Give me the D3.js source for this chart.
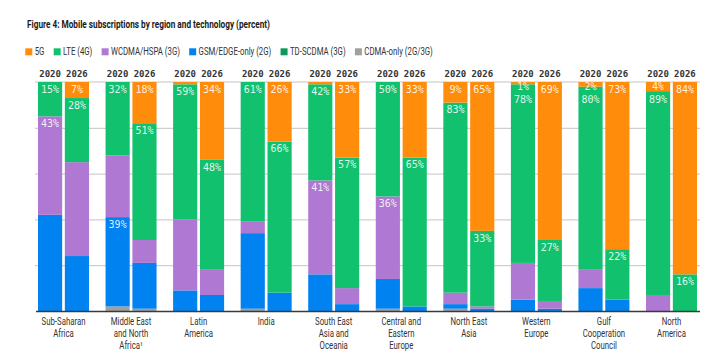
<!DOCTYPE html>
<html>
<head>
<meta charset="utf-8">
<script src="https://cdn.jsdelivr.net/npm/d3@7"></script>
<style>
  body { margin: 0; background: #fff; }
  svg { display: block; }
</style>
</head>
<body>
<svg id="chart" width="714" height="354"></svg>
<script>
// regions, bottom labels
var regions = ["SSA", "MENA", "LAT", "IND", "SEA", "CEE", "NEA", "WE", "GCC", "NA"];
var regionLines = [
  ["Sub-Saharan", "Africa"],
  ["Middle East", "and North", "Africa\u00B9"],
  ["Latin", "America"],
  ["India"],
  ["South East", "Asia and", "Oceania"],
  ["Central and", "Eastern", "Europe"],
  ["North East", "Asia"],
  ["Western", "Europe"],
  ["Gulf", "Cooperation", "Council"],
  ["North", "America"]
];
var years = ["2020", "2026"];

// percent values per technology, one entry per region
var g5_2020      = [0, 0, 1, 0, 1, 0, 9, 1, 2, 4];
var g5_2026      = [7, 18, 34, 26, 33, 33, 65, 69, 73, 84];
var lte_2020     = [15, 32, 59, 61, 42, 50, 83, 78, 80, 89];
var lte_2026     = [28, 51, 48, 66, 57, 65, 33, 27, 22, 16];
var wcdma_2020   = [43, 27, 31, 5, 41, 36, 5, 16, 8, 7];
var wcdma_2026   = [41, 10, 11, 0, 7, 0, 1, 3, 0, 0];
var gsm_2020     = [42, 39, 9, 33, 16, 13, 2, 5, 10, 0];
var gsm_2026     = [24, 20, 7, 8, 3, 2, 1, 1, 5, 0];
var tdscdma_2020 = [0, 0, 0, 0, 0, 0, 0, 0, 0, 0];
var tdscdma_2026 = [0, 0, 0, 0, 0, 0, 0, 0, 0, 0];
var cdma_2020    = [0, 2, 0, 1, 0, 1, 1, 0, 0, 0];
var cdma_2026    = [0, 1, 0, 0, 0, 0, 0, 0, 0, 0];

// which segments carry a percent label (region|year|key)
var labelled = [
  "SSA|2020|lte", "SSA|2020|wcdma", "MENA|2020|lte", "MENA|2020|gsm",
  "LAT|2020|lte", "IND|2020|lte", "SEA|2020|lte", "SEA|2020|wcdma",
  "CEE|2020|lte", "CEE|2020|wcdma", "NEA|2020|g5", "NEA|2020|lte",
  "WE|2020|g5", "WE|2020|lte", "GCC|2020|g5", "GCC|2020|lte",
  "NA|2020|g5", "NA|2020|lte",
  "SSA|2026|g5", "SSA|2026|lte", "MENA|2026|g5", "MENA|2026|lte",
  "LAT|2026|g5", "LAT|2026|lte", "IND|2026|g5", "IND|2026|lte",
  "SEA|2026|g5", "SEA|2026|lte", "CEE|2026|g5", "CEE|2026|lte",
  "NEA|2026|g5", "NEA|2026|lte", "WE|2026|g5", "WE|2026|lte",
  "GCC|2026|g5", "GCC|2026|lte", "NA|2026|g5", "NA|2026|lte"
];

var legendKeys  = ["g5", "lte", "wcdma", "gsm", "tdscdma", "cdma"];
var legendNames = ["5G", "LTE (4G)", "WCDMA/HSPA (3G)", "GSM/EDGE-only (2G)", "TD-SCDMA (3G)", "CDMA-only (2G/3G)"];
var colors = {g5: "#ff8c0a", lte: "#12c16e", wcdma: "#af78d2", gsm: "#0082f0", tdscdma: "#0a9a5a", cdma: "#a0a0a0"};

// stack order from the bottom up
var stackKeys = ["cdma", "gsm", "tdscdma", "wcdma", "lte", "g5"];

var series = {
  "2020": {g5: g5_2020, lte: lte_2020, wcdma: wcdma_2020, gsm: gsm_2020, tdscdma: tdscdma_2020, cdma: cdma_2020},
  "2026": {g5: g5_2026, lte: lte_2026, wcdma: wcdma_2026, gsm: gsm_2026, tdscdma: tdscdma_2026, cdma: cdma_2026}
};

var rows = [];
regions.forEach(function(r, i) {
  years.forEach(function(yr) {
    var row = {region: r, year: yr};
    stackKeys.forEach(function(k) { row[k] = series[yr][k][i]; });
    rows.push(row);
  });
});

var svg = d3.select("#chart");
var plotTop = 82, plotBottom = 311, plotLeft = 38, plotRight = 697;
var font = "Roboto, sans-serif";
var mono = "'DejaVu Sans Mono', monospace";
var squeeze = 0.78; // the original face is much narrower than Roboto

var x = d3.scaleBand().domain(regions).range([plotLeft, plotRight]).paddingInner(0.245).paddingOuter(0);
var xYear = d3.scaleBand().domain(years).range([0, x.bandwidth()]).paddingInner(0.1);
var y = d3.scaleLinear().domain([0, 100]).range([plotBottom, plotTop]);

// title
svg.append("text")
  .attr("x", 27).attr("y", 27.5)
  .attr("textLength", 243).attr("lengthAdjust", "spacingAndGlyphs")
  .style("font", "bold 10.5px " + font)
  .attr("fill", "#1a1a1a")
  .text("Figure 4: Mobile subscriptions by region and technology (percent)");

// legend
var lx = 25.3;
legendKeys.forEach(function(k, i) {
  svg.append("rect").attr("x", lx).attr("y", 48.3).attr("width", 7).attr("height", 7).attr("fill", colors[k]);
  var t = svg.append("text")
    .attr("transform", "translate(" + (lx + 9.4) + ",55) scale(" + squeeze + ",1)")
    .style("font", "10px " + font).attr("fill", "#333").text(legendNames[i]);
  lx += 9.4 + t.node().getComputedTextLength() * squeeze + 9.3;
});

// gridlines
svg.append("g")
  .attr("transform", "translate(35,0)")
  .call(d3.axisRight(y).tickValues([20, 40, 60, 80]).tickSize(700 - 35).tickFormat(""))
  .call(function(g) {
    g.select(".domain").remove();
    g.selectAll(".tick line").attr("stroke", "#c4c4c4").attr("stroke-width", 1);
  });

// top line
svg.append("line").attr("x1", 35).attr("x2", 700).attr("y1", y(100)).attr("y2", y(100))
  .attr("stroke", "#c4c4c4");

// bars
var stacked = d3.stack().keys(stackKeys)(rows);

svg.append("g").selectAll("g")
  .data(stacked)
  .enter().append("g")
    .attr("fill", function(d) { return colors[d.key]; })
  .selectAll("rect")
  .data(function(d) { return d; })
  .enter().append("rect")
    .attr("x", function(d) { return x(d.data.region) + xYear(d.data.year); })
    .attr("y", function(d) { return y(d[1]); })
    .attr("height", function(d) { return y(d[0]) - y(d[1]); })
    .attr("width", xYear.bandwidth());

// percent labels: near the top of each segment, pushed down if the one above is too close
var labelData = [];
stacked.forEach(function(s) {
  s.forEach(function(d) {
    if (labelled.indexOf(d.data.region + "|" + d.data.year + "|" + s.key) >= 0) {
      var h = y(d[0]) - y(d[1]);
      labelData.push({key: s.key, d: d, bar: d.data.region + d.data.year,
                      cy: y(d[1]) + (h < 12 ? 4 : 7.3)});
    }
  });
});
d3.groups(labelData, function(l) { return l.bar; }).forEach(function(g) {
  var list = g[1].sort(function(a, b) { return a.cy - b.cy; });
  for (var i = 1; i < list.length; i++) {
    if (list[i].cy < list[i - 1].cy + 13.3) list[i].cy = list[i - 1].cy + 13.3;
  }
});

svg.append("g").selectAll("text")
  .data(labelData)
  .enter().append("text")
    .attr("x", function(l) { return x(l.d.data.region) + xYear(l.d.data.year) + xYear.bandwidth() / 2; })
    .attr("y", function(l) { return l.cy + 3.5; })
    .attr("text-anchor", "middle")
    .style("font", "10px " + mono)
    .attr("fill", "#fff")
    .attr("fill-opacity", 0.88)
    .text(function(l) { return (l.d[1] - l.d[0]) + "%"; });

// year labels
svg.append("g").selectAll("text")
  .data(rows)
  .enter().append("text")
    .attr("x", function(d) { return x(d.region) + xYear(d.year) + xYear.bandwidth() / 2; })
    .attr("y", 76.5)
    .attr("text-anchor", "middle")
    .style("font", "bold 9px " + mono)
    .attr("fill", "#333")
    .text(function(d) { return d.year; });

// base axis
svg.append("line").attr("x1", 36).attr("x2", 700).attr("y1", y(0) + 0.5).attr("y2", y(0) + 0.5)
  .attr("stroke", "#3a3a3a").attr("stroke-width", 1.5);

// region labels
regions.forEach(function(r, i) {
  var t = svg.append("text")
    .attr("transform", "translate(" + (x(r) + x.bandwidth() / 2) + ",0) scale(" + squeeze + ",1)")
    .attr("text-anchor", "middle")
    .style("font", "10px " + font)
    .attr("fill", "#333");
  regionLines[i].forEach(function(line, j) {
    t.append("tspan").attr("x", 0).attr("y", 325 + j * 12).text(line);
  });
});
</script>
</body>
</html>
